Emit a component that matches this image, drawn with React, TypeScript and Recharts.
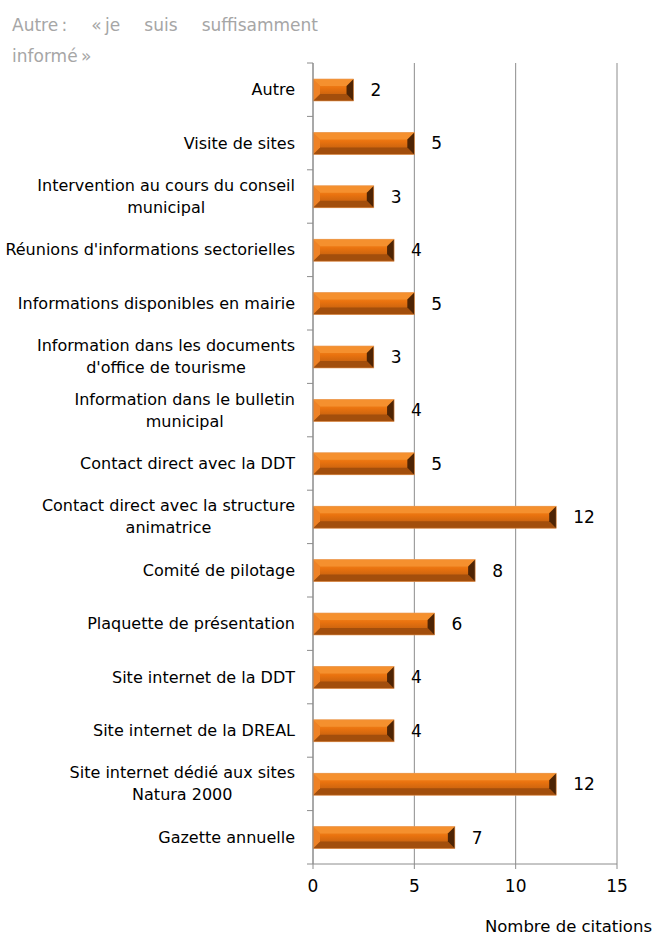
import React from 'react';
import { BarChart, Bar, XAxis, YAxis, CartesianGrid, LabelList } from 'recharts';

const categories = [
  'Autre',
  'Visite de sites',
  'Intervention au cours du conseil municipal',
  "Réunions d'informations sectorielles",
  'Informations disponibles en mairie',
  "Information dans les documents d'office de tourisme",
  'Information dans le bulletin municipal',
  'Contact direct avec la DDT',
  'Contact direct avec la structure animatrice',
  'Comité de pilotage',
  'Plaquette de présentation',
  'Site internet de la DDT',
  'Site internet de la DREAL',
  'Site internet dédié aux sites Natura 2000',
  'Gazette annuelle',
];

// line breaks as they appear in the picture
const labelLines: Record<string, string[]> = {
  'Intervention au cours du conseil municipal': ['Intervention au cours du conseil', 'municipal'],
  "Information dans les documents d'office de tourisme": ['Information dans les documents', "d'office de tourisme"],
  'Information dans le bulletin municipal': ['Information dans le bulletin', 'municipal'],
  'Contact direct avec la structure animatrice': ['Contact direct avec la structure', 'animatrice'],
  'Site internet dédié aux sites Natura 2000': ['Site internet dédié aux sites', 'Natura 2000'],
};

const citations = [2, 5, 3, 4, 5, 3, 4, 5, 12, 8, 6, 4, 4, 12, 7];
const xTicks = [0, 5, 10, 15];

const data = categories.map((name, i) => ({ name, value: citations[i] }));

const W = 655;
const H = 936;
const margin = { top: 63, right: 38, bottom: 32, left: 13 };
const yAxisWidth = 300;
const xAxisHeight = 40;
const plotLeft = margin.left + yAxisWidth;
const plotHeight = H - margin.top - margin.bottom - xAxisHeight;
const band = plotHeight / categories.length;

const FONT = '"DejaVu Sans", sans-serif';
const LABEL_SIZE = 16;
const AXIS_GRAY = '#8c8c8c';

let ctx: CanvasRenderingContext2D | null = null;
function measure(text: string) {
  if (!ctx) ctx = document.createElement('canvas').getContext('2d');
  if (!ctx) return text.length * 9;
  ctx.font = `${LABEL_SIZE}px ${FONT}`;
  return ctx.measureText(text).width;
}

const CategoryTick = (props: any) => {
  const { y, payload, index } = props;
  const lines = labelLines[payload.value] || [payload.value];
  const right = plotLeft - 18;
  const maxW = Math.max(...lines.map(measure));
  const cx = right - maxW / 2;
  const lh = 22;
  const y0 = y - ((lines.length - 1) * lh) / 2;
  return (
    <g>
      <line x1={plotLeft - 6} x2={plotLeft} y1={y - band / 2} y2={y - band / 2} stroke={AXIS_GRAY} />
      {index === categories.length - 1 && (
        <line x1={plotLeft - 6} x2={plotLeft} y1={y + band / 2} y2={y + band / 2} stroke={AXIS_GRAY} />
      )}
      {lines.map((l, i) => (
        <text
          key={i}
          x={lines.length > 1 ? cx : right}
          y={y0 + i * lh}
          textAnchor={lines.length > 1 ? 'middle' : 'end'}
          dominantBaseline="central"
          fontSize={LABEL_SIZE}
          fontFamily={FONT}
          fill="#000"
        >
          {l}
        </text>
      ))}
    </g>
  );
};

const BevelBar = (props: any) => {
  const { x, y, width, height } = props;
  if (!width || width <= 0) return null;
  const b = Math.min(7, height / 3, width / 3);
  const r = x + width;
  const btm = y + height;
  return (
    <g>
      <rect x={x} y={y} width={width} height={height} fill="url(#barFace)" />
      <polygon points={`${x},${y} ${r},${y} ${r - b},${y + b} ${x + b},${y + b}`} fill="#f5902e" />
      <polygon points={`${x},${btm} ${r},${btm} ${r - b},${btm - b} ${x + b},${btm - b}`} fill="#a24e0c" />
      <polygon points={`${x},${y} ${x + b},${y + b} ${x + b},${btm - b} ${x},${btm}`} fill="#ee8226" />
      <polygon points={`${r},${y} ${r - b},${y + b} ${r - b},${btm - b} ${r},${btm}`} fill="#4e2404" />
      <rect x={x} y={y} width={width} height={height} fill="none" stroke="#e89a58" strokeWidth={0.6} />
    </g>
  );
};

export default function App() {
  return (
    <div style={{ position: 'absolute', left: 0, top: 0, width: W, height: H, background: '#fff', overflow: 'hidden' }}>
      <div
        style={{
          position: 'absolute',
          left: 12,
          top: 10,
          width: 306,
          color: '#a6a6a6',
          fontFamily: FONT,
          fontSize: 17,
          lineHeight: '31px',
          textAlign: 'justify',
        }}
      >
        {'Autre\u202F: «\u202Fje suis suffisamment informé\u202F»'}
      </div>
      <BarChart width={W} height={H} data={data} layout="vertical" margin={margin} barSize={22}>
        <defs>
          <linearGradient id="barFace" x1="0" y1="0" x2="0" y2="1">
            <stop offset="0%" stopColor="#f7942e" />
            <stop offset="40%" stopColor="#ea730f" />
            <stop offset="100%" stopColor="#b0560e" />
          </linearGradient>
        </defs>
        <CartesianGrid horizontal={false} stroke={AXIS_GRAY} strokeWidth={1} />
        <XAxis
          type="number"
          domain={[0, 15]}
          ticks={xTicks}
          height={xAxisHeight}
          stroke={AXIS_GRAY}
          tickSize={5}
          tickMargin={11}
          tick={{ fill: '#000', fontSize: 17, fontFamily: FONT }}
        />
        <YAxis
          type="category"
          dataKey="name"
          width={yAxisWidth}
          stroke={AXIS_GRAY}
          tickLine={false}
          interval={0}
          tick={<CategoryTick />}
        />
        <Bar dataKey="value" shape={<BevelBar />} isAnimationActive={false}>
          <LabelList dataKey="value" position="right" offset={17} fill="#000" fontSize={17} fontFamily={FONT} />
        </Bar>
      </BarChart>
      <div
        style={{
          position: 'absolute',
          right: 3,
          top: 917,
          fontFamily: FONT,
          fontSize: 16.5,
          color: '#000',
          whiteSpace: 'nowrap',
        }}
      >
        Nombre de citations
      </div>
    </div>
  );
}
